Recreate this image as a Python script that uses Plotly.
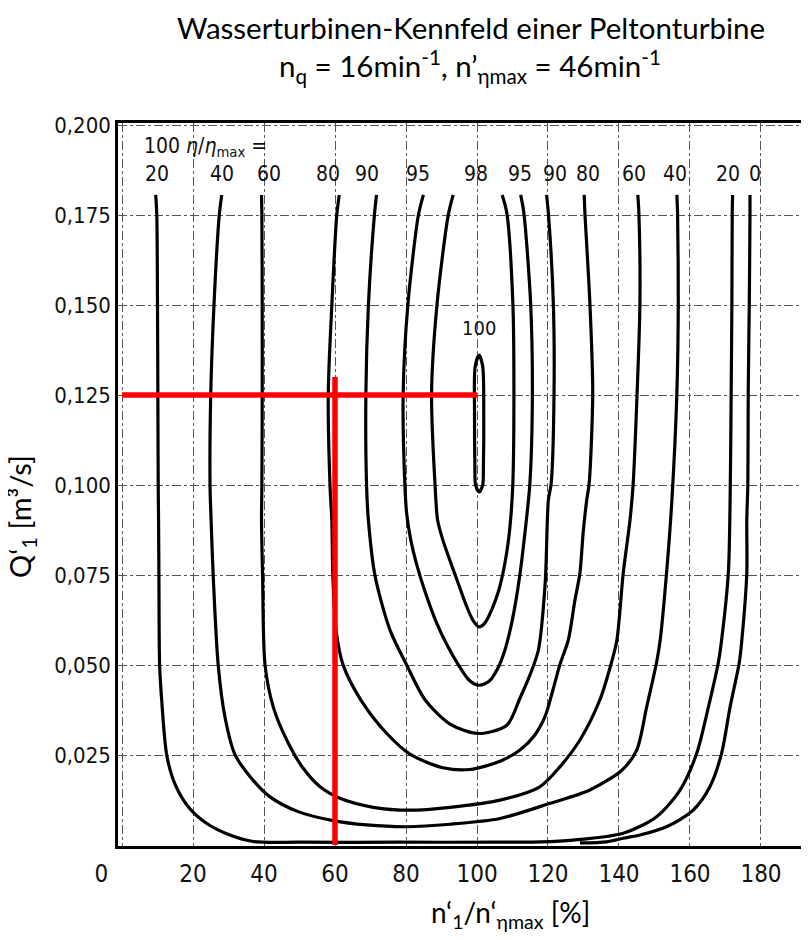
import plotly.graph_objects as go

# ---- axis ticks -------------------------------------------------------
x_ticks = [0, 20, 40, 60, 80, 100, 120, 140, 160, 180]
x_ticktext = ["0\u00a0\u00a0\u00a0\u00a0\u00a0\u00a0", "20", "40", "60", "80", "100", "120", "140", "160", "180"]
y_ticks = [0.025, 0.050, 0.075, 0.100, 0.125, 0.150, 0.175, 0.200]
y_ticktext = ["0,025", "0,050", "0,075", "0,100", "0,125", "0,150", "0,175", "0,200"]

# ---- efficiency contours (x: n'1/n'eta_max in %, y: Q'1 in m3/s) ------
c20_x = [9.5, 9.8, 10.0, 10.1, 10.2, 10.3, 10.4, 10.6, 11.2, 12.6, 14.9, 18.7, 23.9, 30.4, 37.0, 50.0,
         78.0, 106.0, 118.0, 127.1, 141.2, 150.6, 157.2, 161.9, 165.2, 168.0, 168.9, 170.8, 171.3,
         171.6, 171.8, 171.9, 172.0]
c20_y = [0.1806, 0.1750, 0.1500, 0.1250, 0.1000, 0.0900, 0.0750, 0.0500, 0.0400, 0.0250, 0.0170,
         0.0106, 0.0060, 0.0028, 0.0010, 0.0008, 0.0008, 0.0008, 0.0009, 0.0014, 0.0033, 0.0079,
         0.0153, 0.0255, 0.0384, 0.0508, 0.0569, 0.0756, 0.0958, 0.1255, 0.1506, 0.1756, 0.1806]

c40_x = [28.1, 27.4, 25.9, 25.0, 24.8, 25.1, 25.7, 27.1, 29.0, 31.8, 36.1, 41.7, 49.6, 59.5, 68.9,
         80.2, 92.4, 106.5, 120.6, 131.8, 140.8, 145.0, 147.8, 150.6, 151.6, 153.4, 154.9, 156.3,
         156.7, 156.5, 156.3]
c40_y = [0.1806, 0.1750, 0.1498, 0.1253, 0.0997, 0.0903, 0.0747, 0.0500, 0.0356, 0.0252, 0.0190,
         0.0134, 0.0093, 0.0068, 0.0056, 0.0051, 0.0058, 0.0074, 0.0116, 0.0153, 0.0208, 0.0264,
         0.0384, 0.0508, 0.0569, 0.0756, 0.0958, 0.1255, 0.1506, 0.1756, 0.1806]

c60_x = [39.3, 39.4, 39.5, 39.5, 39.4, 39.3, 39.6, 40.3, 42.6, 46.4, 51.0, 55.8, 61.4, 70.8, 81.1,
         92.4, 106.5, 117.7, 123.4, 129.0, 134.6, 137.9, 139.4, 141.2, 143.1, 144.0, 145.1, 145.9,
         145.6, 145.3]
c60_y = [0.1806, 0.1750, 0.1498, 0.1253, 0.0997, 0.0903, 0.0747, 0.0500, 0.0384, 0.0292, 0.0214,
         0.0162, 0.0130, 0.0105, 0.0097, 0.0105, 0.0125, 0.0162, 0.0218, 0.0292, 0.0403, 0.0508,
         0.0569, 0.0756, 0.0903, 0.1005, 0.1255, 0.1506, 0.1756, 0.1806]

c80_x = [61.2, 60.5, 59.1, 58.1, 58.6, 59.1, 59.4, 60.3, 62.3, 67.3, 74.6, 81.1, 90.4, 98.0, 106.5,
         112.1, 116.3, 119.2, 121.4, 123.4, 125.7, 127.6, 129.0, 129.9, 130.9, 131.6, 132.6, 131.8,
         130.4, 130.2]
c80_y = [0.1806, 0.1750, 0.1498, 0.1253, 0.0997, 0.0903, 0.0747, 0.0597, 0.0500, 0.0403, 0.0310,
         0.0253, 0.0215, 0.0210, 0.0233, 0.0264, 0.0306, 0.0358, 0.0431, 0.0503, 0.0569, 0.0681,
         0.0756, 0.0867, 0.0958, 0.1005, 0.1255, 0.1506, 0.1756, 0.1806]

c90_x = [71.7, 71.1, 69.4, 68.7, 68.9, 69.4, 71.3, 75.5, 80.2, 85.4, 92.4, 100.3, 108.4, 112.1, 114.9,
         117.3, 119.2, 120.1, 120.9, 121.7, 121.5, 120.1, 119.6]
c90_y = [0.1806, 0.1750, 0.1498, 0.1253, 0.0997, 0.0903, 0.0747, 0.0597, 0.0500, 0.0403, 0.0336,
         0.0310, 0.0333, 0.0408, 0.0472, 0.0542, 0.0727, 0.0958, 0.1005, 0.1255, 0.1506, 0.1756, 0.1806]

c95_x = [84.9, 83.5, 80.5, 79.2, 79.7, 80.2, 81.3, 83.0, 85.5, 88.5, 91.6, 94.8, 97.8, 100.6, 103.4,
         105.8, 107.8, 109.4, 110.8, 112.2, 113.5, 114.9, 115.6, 115.1, 113.2, 112.3]
c95_y = [0.1806, 0.1750, 0.1498, 0.1253, 0.0997, 0.0920, 0.0850, 0.0780, 0.0700, 0.0620, 0.0555,
         0.0500, 0.0458, 0.0444, 0.0455, 0.0490, 0.0540, 0.0600, 0.0670, 0.0760, 0.0867, 0.1005,
         0.1255, 0.1506, 0.1756, 0.1806]

c98_x = [93.3, 91.9, 88.7, 87.2, 88.2, 88.9, 90.3, 92.4, 94.6, 97.0, 99.0, 100.6, 102.3, 104.2, 106.2,
         107.8, 108.9, 109.6, 110.1, 110.4, 110.1, 108.4, 107.1]
c98_y = [0.1806, 0.1750, 0.1498, 0.1253, 0.0997, 0.0903, 0.0850, 0.0790, 0.0730, 0.0665, 0.0622,
         0.0606, 0.0618, 0.0655, 0.0710, 0.0780, 0.0850, 0.0920, 0.1005, 0.1255, 0.1506, 0.1756, 0.1806]

c100_x = [100.6, 101.6, 101.9, 101.8, 101.6, 100.6, 99.6, 99.4, 99.3, 99.5, 100.6]
c100_y = [0.1361, 0.1330, 0.1200, 0.1050, 0.1000, 0.0981, 0.1000, 0.1050, 0.1200, 0.1330, 0.1361]

c0_x = [176.9, 176.9, 176.7, 176.4, 176.3, 176.0, 176.0, 174.6, 173.9, 171.3, 168.9, 165.6, 160.9,
        153.4, 145.9, 141.2, 136.5, 129.0]
c0_y = [0.1806, 0.1756, 0.1506, 0.1255, 0.1005, 0.0903, 0.0756, 0.0569, 0.0508, 0.0384, 0.0255,
        0.0162, 0.0097, 0.0051, 0.0028, 0.0019, 0.0009, 0.0006]

contours = [(c20_x, c20_y), (c40_x, c40_y), (c60_x, c60_y), (c80_x, c80_y), (c90_x, c90_y),
            (c95_x, c95_y), (c98_x, c98_y), (c100_x, c100_y), (c0_x, c0_y)]

# contour labels along the top (100*eta/eta_max)
label_text = ["20", "40", "60", "80", "90", "95", "98", "95", "90", "80", "60", "40", "20", "0"]
label_x = [9.8, 28.3, 41.4, 57.9, 68.9, 83.4, 99.7, 112.1, 122.0, 131.3, 144.2, 155.8, 170.8, 178.3]
label_y = 0.1864

# red operating-point construction lines
red_h_x = [0, 100]
red_h_y = [0.125, 0.125]
red_v_x = [60, 60]
red_v_y = [0, 0.130]

TICKFONT = "DejaVu Sans Condensed, Liberation Sans Narrow, Roboto Condensed, DejaVu Sans, sans-serif"
TEXTFONT = "Lato, Open Sans, sans-serif"

fig = go.Figure()
for cx, cy in contours:
    fig.add_trace(go.Scatter(x=cx, y=cy, mode="lines",
                             line=dict(color="black", width=3.2, shape="spline", smoothing=0.8),
                             hoverinfo="skip", showlegend=False))

fig.add_trace(go.Scatter(x=red_h_x, y=red_h_y, mode="lines", line=dict(color="#ff0000", width=5.5),
                         hoverinfo="skip", showlegend=False))
fig.add_trace(go.Scatter(x=red_v_x, y=red_v_y, mode="lines", line=dict(color="#ff0000", width=5.5),
                         hoverinfo="skip", showlegend=False))

annotations = []
for t, lx in zip(label_text, label_x):
    annotations.append(dict(x=lx, y=label_y, xref="x", yref="y", text=t, showarrow=False,
                            font=dict(family=TICKFONT, size=21, color="#111"),
                            xanchor="center", yanchor="middle"))
annotations.append(dict(x=5.6, y=0.1939, xref="x", yref="y",
                        text="100 <i>η</i>/<i>η</i><sub>max</sub> =", showarrow=False,
                        font=dict(family=TICKFONT, size=21, color="#111"),
                        xanchor="left", yanchor="middle"))
annotations.append(dict(x=100.6, y=0.1436, xref="x", yref="y", text="100", showarrow=False,
                        font=dict(family=TICKFONT, size=20, color="#111"),
                        xanchor="center", yanchor="middle"))
# title lines
annotations.append(dict(x=0.5168, y=1.1314, xref="paper", yref="paper",
                        text="Wasserturbinen-Kennfeld einer Peltonturbine", showarrow=False,
                        font=dict(family=TEXTFONT, size=29.5, color="black"),
                        xanchor="center", yanchor="middle"))
annotations.append(dict(x=0.5154, y=1.0788, xref="paper", yref="paper",
                        text="n<sub>q</sub> = 16min<sup>-1</sup>, n’<sub>ηmax</sub> = 46min<sup>-1</sup>",
                        showarrow=False,
                        font=dict(family=TEXTFONT, size=29.5, color="black"),
                        xanchor="center", yanchor="middle"))
# axis titles
annotations.append(dict(x=0.5754, y=-0.0940, xref="paper", yref="paper",
                        text="n‘<sub>1</sub>/n‘<sub>ηmax</sub> [%]", showarrow=False,
                        font=dict(family=TEXTFONT, size=28, color="black"),
                        xanchor="center", yanchor="middle"))
annotations.append(dict(x=-0.1420, y=0.455, xref="paper", yref="paper",
                        text="Q‘<sub>1</sub> [m³/s]", showarrow=False, textangle=-90,
                        font=dict(family=TEXTFONT, size=29, color="black"),
                        xanchor="center", yanchor="middle"))

# page body has an 8px default margin; the figure is sized to fit inside it
fig.update_layout(
    template="none",
    width=793, height=924,
    margin=dict(l=110, r=0, t=115, b=86),
    paper_bgcolor="white", plot_bgcolor="white",
    showlegend=False,
    annotations=annotations,
)

fig.update_xaxes(range=[-1.127, 191.27], tickvals=x_ticks, ticktext=x_ticktext,
                 showgrid=True, gridcolor="#555", gridwidth=1, griddash="dashdot",
                 showline=True, linecolor="black", linewidth=2.5, mirror=True,
                 zeroline=False, ticks="", automargin=False,
                 tickfont=dict(family=TICKFONT, size=24, color="#111"), ticklabelstandoff=4)
fig.update_yaxes(range=[-0.00025, 0.20058], tickvals=y_ticks, ticktext=y_ticktext,
                 showgrid=True, gridcolor="#555", gridwidth=1, griddash="dashdot",
                 showline=True, linecolor="black", linewidth=2.5, mirror=False,
                 zeroline=False, ticks="", automargin=False,
                 tickfont=dict(family=TICKFONT, size=22, color="#111"), ticklabelstandoff=0)

fig.write_html("out.html")
